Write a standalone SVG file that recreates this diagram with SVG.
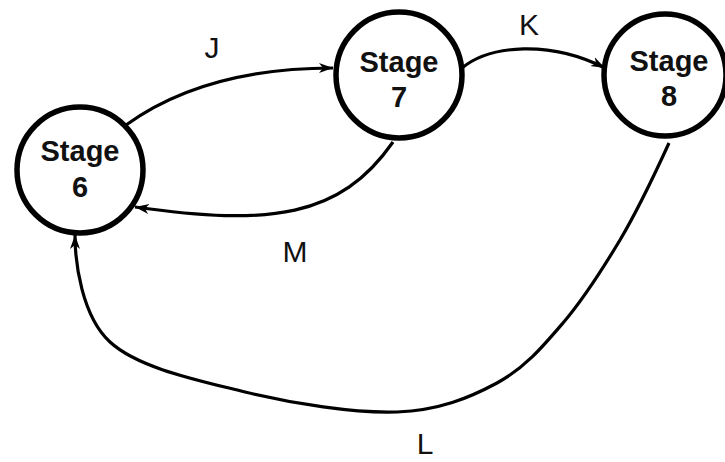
<svg xmlns="http://www.w3.org/2000/svg" width="725" height="462" viewBox="0 0 725 462">
<style>
.node{fill:#fff;stroke:#000;stroke-width:5.5}
.nt{font-family:"Liberation Sans",Arial,sans-serif;font-weight:bold;font-size:29px;fill:#111;text-anchor:middle}
.lb{font-family:"Liberation Sans",Arial,sans-serif;font-size:30px;fill:#111;text-anchor:middle}
.edge{fill:none;stroke:#000;stroke-width:3.2;marker-end:url(#arr)}
</style>
<defs>
<marker id="arr" markerUnits="userSpaceOnUse" markerWidth="16" markerHeight="12" refX="14" refY="5" orient="auto" viewBox="0 0 16 10">
<path d="M0,0 L14,5 L0,10 L4,5 z" fill="#000"/>
</marker>
</defs>
<rect width="725" height="462" fill="#fff"/>
<g id="connectors">
<path class="edge" d="M126,125 C180,86 250,68 333,68"/>
<path class="edge" d="M462,68 C490,45 550,40 605,68"/>
<path class="edge" d="M393,142 C340,218 270,226 135,207"/>
<path class="edge" d="M669,143 C661.7,159 637.8,210 620,240 C602,270 583.5,299 563,323 C542.5,347 524.7,368 497,383 C469,398 439,410.5 397,412 C355,413.5 292.8,403.7 245,392 C197,380 138.3,368 110,342 C81.7,316 75,262 75,235"/>
</g>
<g id="labels">
<text class="lb" x="212" y="58">J</text>
<text class="lb" x="529" y="35">K</text>
<text class="lb" x="295" y="262">M</text>
<text class="lb" x="425" y="454">L</text>
</g>
<g id="stage6">
<circle class="node" cx="80" cy="170" r="63"/>
<text class="nt" x="80" y="161">Stage</text>
<text class="nt" x="80" y="197">6</text>
</g>
<g id="stage7">
<circle class="node" cx="399" cy="75" r="63"/>
<text class="nt" x="399" y="72">Stage</text>
<text class="nt" x="399" y="107">7</text>
</g>
<g id="stage8">
<circle class="node" cx="665" cy="75" r="61"/>
<text class="nt" x="669" y="71">Stage</text>
<text class="nt" x="669" y="106">8</text>
</g>
</svg>
